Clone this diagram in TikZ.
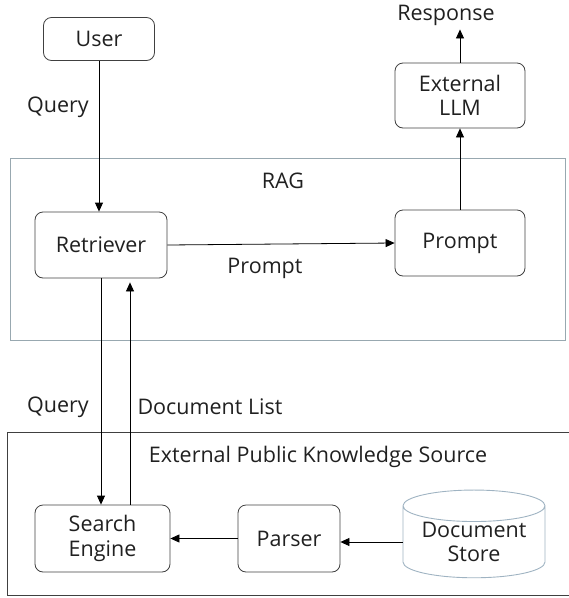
\documentclass[tikz,border=0pt]{standalone}
\usepackage{fontspec}
\setmainfont{Open Sans}
\usetikzlibrary{arrows.meta,shapes.geometric,calc}
\definecolor{ragc}{HTML}{98A8B0}
\definecolor{storec}{HTML}{9FB3C2}
\definecolor{boxc}{HTML}{404040}
\definecolor{txtc}{HTML}{202020}
\begin{document}
\begin{tikzpicture}[x=1pt,y=-1pt,
  font=\fontsize{21.5}{24.5}\selectfont,
  text=txtc,
  box/.style={draw=boxc,line width=0.8pt,rounded corners=8pt,align=center,inner sep=0pt},
  lbl/.style={inner sep=0pt,align=center},
  arr/.style={line width=0.8pt,-{Triangle[length=9pt,width=8pt]}},
  ln/.style={line width=0.8pt}]
\useasboundingbox (0,0) rectangle (569,598);
% frames
\draw[ragc,line width=0.9pt] (10,158) rectangle (565,340);
\draw[boxc,line width=0.8pt] (569,432) -- (7,432) -- (7,595) -- (569,595);
% nodes
\node[box,minimum width=111pt,minimum height=43pt] (user) at (99,39) {User};
\node[lbl] (response) at (446,15) {Response};
\node[box,minimum width=130pt,minimum height=65pt] (llm) at (460,95.5) {External\\LLM};
\node[lbl] (rag) at (283,181) {RAG};
\node[box,minimum width=132pt,minimum height=66pt] (ret) at (101,245) {Retriever};
\node[box,minimum width=130pt,minimum height=66pt] (prompt) at (460,243) {Prompt};
\node[lbl] (plabel) at (265,268) {Prompt};
\node[lbl] (q1) at (58,107) {Query};
\node[lbl] (q2) at (58,407) {Query};
\node[lbl] (dl) at (210,407) {Document List};
\node[lbl] (ext) at (318,457) {External Public Knowledge Source};
\node[box,minimum width=135pt,minimum height=67pt] (search) at (102.5,538.5) {Search\\Engine};
\node[box,minimum width=102pt,minimum height=67pt] (parser) at (289,538.5) {Parser};
\node[cylinder,shape border rotate=90,draw=storec,line width=0.9pt,aspect=0.3,
  minimum width=142pt,minimum height=84pt,align=center,inner sep=0pt] (store) at (474,542) {Document\\Store};
% connectors
\draw[arr] (user.south) -- (user.south |- ret.north);
\draw[arr] (ret.south) -- (ret.south |- search.north);
\draw[arr,shorten >=4pt] ([xshift=27.5pt]search.north) -- ([xshift=27.5pt]search.north |- ret.south);
\draw[arr] (ret.east) -- (prompt.west);
\draw[arr] (prompt.north) -- (llm.south);
\draw[arr] (llm.north) -- ([yshift=-4pt]llm.north |- response.south);
\draw[arr] (parser.west) -- (parser.west -| search.east);
\draw[arr] (store.west) -- (store.west -| parser.east);
\end{tikzpicture}
\end{document}
